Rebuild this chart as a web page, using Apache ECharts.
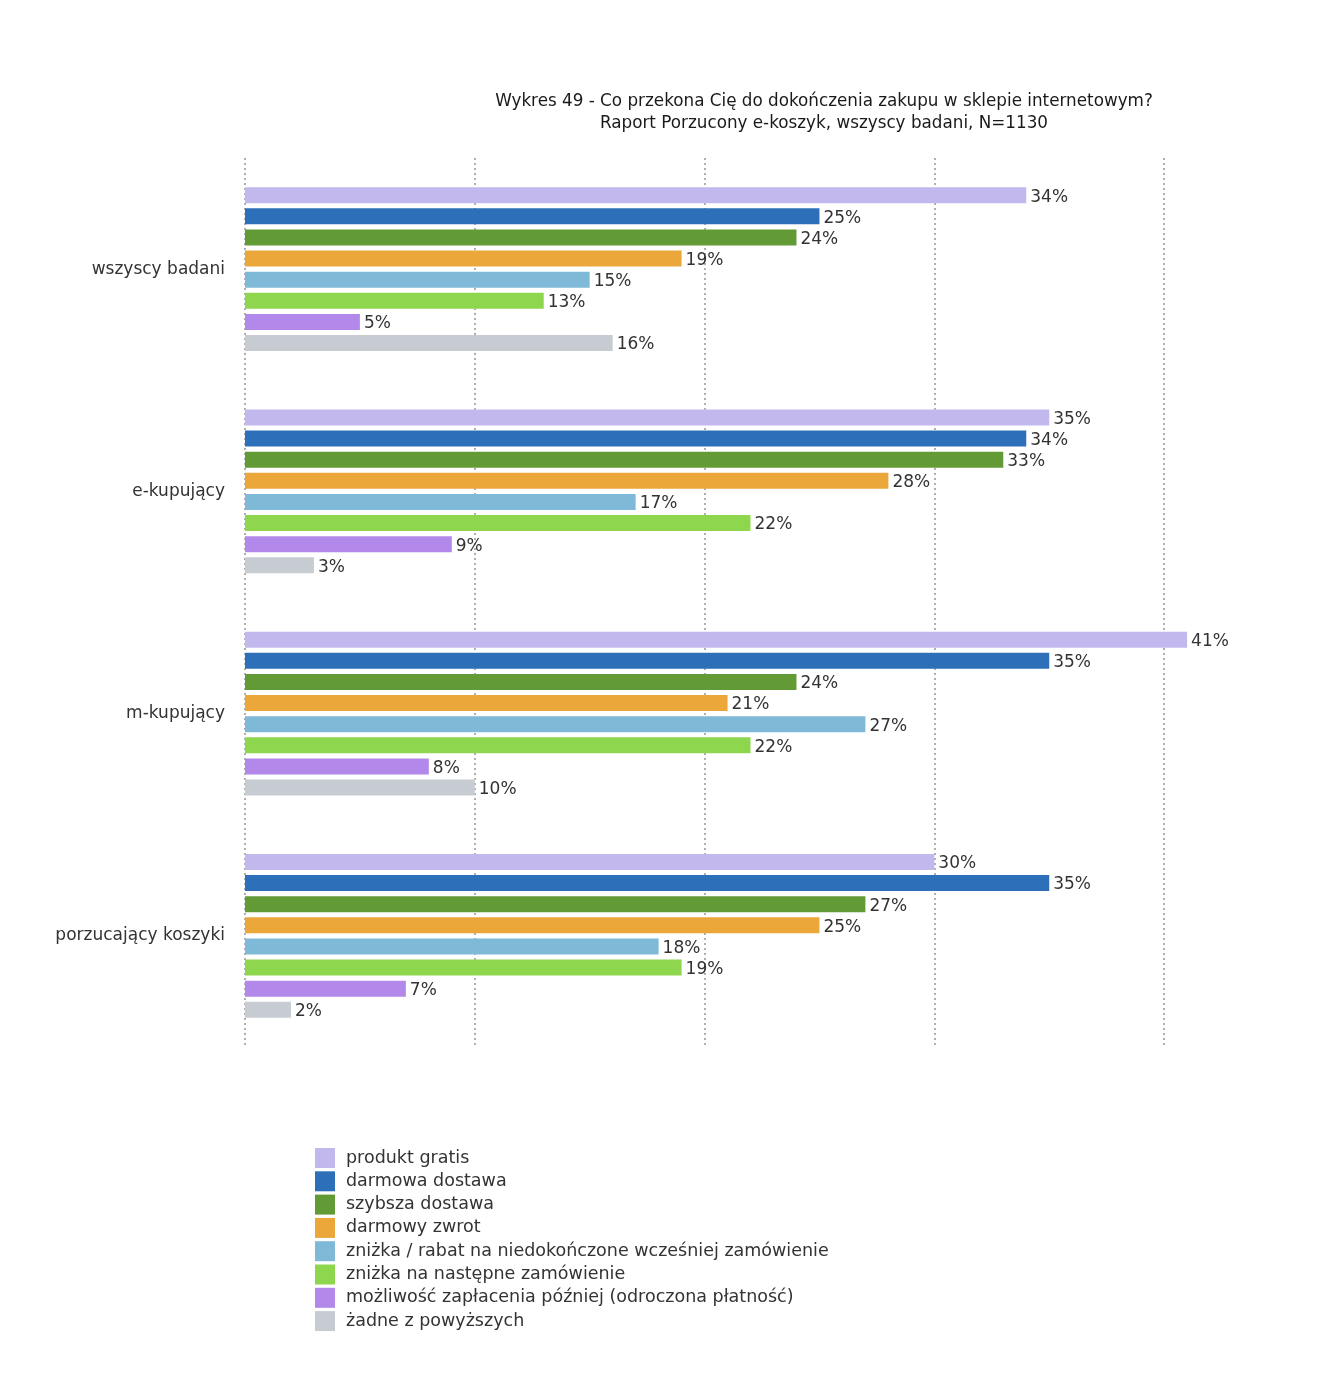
<!DOCTYPE html>
<html>
<head>
<meta charset="utf-8">
<script src="https://cdn.jsdelivr.net/npm/echarts@6/dist/echarts.min.js"></script>
<style>
html,body{margin:0;padding:0;background:#fff;}
#c{width:1326px;height:1386px;}
</style>
</head>
<body>
<div id="c"></div>
<script>
const categories = ['wszyscy badani', 'e-kupujący', 'm-kupujący', 'porzucający koszyki'];
const seriesNames = ['produkt gratis', 'darmowa dostawa', 'szybsza dostawa', 'darmowy zwrot',
  'zniżka / rabat na niedokończone wcześniej zamówienie', 'zniżka na następne zamówienie',
  'możliwość zapłacenia później (odroczona płatność)', 'żadne z powyższych'];
const produktGratis = [34, 35, 41, 30];
const darmowaDostawa = [25, 34, 35, 35];
const szybszaDostawa = [24, 33, 24, 27];
const darmowyZwrot = [19, 28, 21, 25];
const znizkaRabat = [15, 17, 27, 18];
const znizkaNastepne = [13, 22, 22, 19];
const odroczonaPlatnosc = [5, 9, 8, 7];
const zadne = [16, 3, 10, 2];
const seriesValues = [produktGratis, darmowaDostawa, szybszaDostawa, darmowyZwrot, znizkaRabat, znizkaNastepne, odroczonaPlatnosc, zadne];
const colors = ['#c2b8ee', '#2e6fba', '#629a36', '#eba73a', '#7fb9d8', '#8ed64e', '#b288ea', '#c6ccd2'];

const FONT = 'DejaVu Sans';
const chart = echarts.init(document.getElementById('c'), null, {renderer: 'canvas'});
chart.setOption({
  animation: false,
  backgroundColor: '#ffffff',
  color: colors,
  title: {
    text: 'Wykres 49 - Co przekona Cię do dokończenia zakupu w sklepie internetowym?\nRaport Porzucony e-koszyk, wszyscy badani, N=1130',
    left: 819, top: 86, textAlign: 'center',
    textStyle: {fontFamily: FONT, fontSize: 16.8, fontWeight: 'normal', color: '#1a1a1a', lineHeight: 22, align: 'center'}
  },
  legend: {
    orient: 'vertical', left: 310, top: 1143,
    itemWidth: 20, itemHeight: 20, itemGap: 3.3,
    icon: 'rect',
    textStyle: {fontFamily: FONT, fontSize: 17.5, color: '#333', padding: [0, 0, 0, 6]},
    data: seriesNames
  },
  grid: {left: 245, top: 158, right: 24, height: 889, containLabel: false},
  xAxis: {
    type: 'value', min: 0, max: 46, interval: 10,
    axisLabel: {show: false}, axisLine: {show: false}, axisTick: {show: false},
    splitLine: {show: true, showMaxLine: false, lineStyle: {color: '#b0b0b0', width: 2, type: [2, 3]}}
  },
  yAxis: {
    type: 'category', data: categories, inverse: true,
    axisLine: {show: false}, axisTick: {show: false},
    axisLabel: {fontFamily: FONT, fontSize: 17, color: '#333', margin: 20}
  },
  series: seriesNames.map((n, i) => ({
    name: n, type: 'bar', data: seriesValues[i],
    barWidth: 16, barGap: '32%',
    itemStyle: {color: colors[i]},
    label: {show: true, position: 'right', distance: 4, formatter: '{c}%',
      fontFamily: FONT, fontSize: 17, color: '#333', offset: [0, 2]}
  }))
});
</script>
</body>
</html>
